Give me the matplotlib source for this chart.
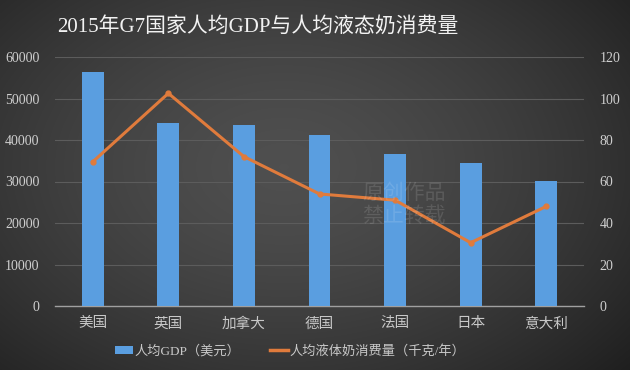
import numpy as np
import matplotlib
matplotlib.use("Agg")
import matplotlib.pyplot as plt
from matplotlib.lines import Line2D
from matplotlib.patches import Patch

categories = ["美国", "英国", "加拿大", "德国", "法国", "日本", "意大利"]
gdp = [56400, 44200, 43500, 41200, 36600, 34500, 30100]
milk = [69.5, 102.5, 72, 54, 51, 30.5, 48]
left_ticks = [0, 10000, 20000, 30000, 40000, 50000, 60000]
right_ticks = [0, 20, 40, 60, 80, 100, 120]
title = "2015年G7国家人均GDP与人均液态奶消费量"
legend_labels = ["人均GDP（美元）", "人均液体奶消费量（千克/年）"]

serif = ["Liberation Serif", "Noto Sans CJK SC"]
plt.rcParams["font.family"] = serif

W, H = 630, 370
fig = plt.figure(figsize=(W / 100, H / 100), dpi=100)

# background vignette
bg = fig.add_axes([0, 0, 1, 1], zorder=-10)
yy, xx = np.mgrid[0:H, 0:W]
cx, cy = W * 0.45, H * 0.45
d = np.sqrt(((xx - cx) / (W * 0.65)) ** 2 + ((yy - cy) / (H * 0.75)) ** 2)
v = 0.31 - 0.16 * np.clip(d, 0, 1.3) ** 1.5
img = np.dstack([v, v, v])
bg.imshow(np.clip(img, 0, 1), aspect="auto", extent=[0, 1, 0, 1])
bg.axis("off")

ax = fig.add_axes([55 / W, 1 - 306 / H, (584 - 55) / W, (306 - 57) / H])
ax.set_facecolor("none")
x = np.arange(len(categories))
ax.bar(x, gdp, width=0.29, color="#5a9ee0", zorder=3)
ax.set_xlim(-0.5, len(categories) - 0.5)
ax.set_ylim(0, 60000)
ax.set_yticks(left_ticks)
ax.set_yticklabels([str(t) for t in left_ticks])
ax.yaxis.grid(True, color="#5c5c5c", linewidth=0.8, zorder=0)
ax.set_axisbelow(True)
for s in ["top", "right", "left"]:
    ax.spines[s].set_visible(False)
ax.spines["bottom"].set_color("#a0a0a0")
ax.spines["bottom"].set_linewidth(1.0)
ax.tick_params(axis="both", length=0, colors="#cfcfcf", labelsize=10)
ax.tick_params(axis="y", pad=11)
ax.tick_params(axis="x", pad=8)
ax.set_xticks(x)
ax.set_xticklabels(categories, fontsize=10.5, color="#c8c8c8")

ax2 = ax.twinx()
ax2.set_ylim(0, 120)
ax2.set_yticks(right_ticks)
ax2.set_yticklabels([str(t) for t in right_ticks])
ax2.plot(x, milk, color="#e07b3c", linewidth=2.2, marker="o", markersize=3.5, zorder=5)
for s in ["top", "right", "left", "bottom"]:
    ax2.spines[s].set_visible(False)
ax2.tick_params(axis="y", length=0, colors="#cfcfcf", labelsize=10, pad=11)

# watermark
fig.text(362 / W, 1 - 204 / H, "原创作品\n禁止转载", fontsize=15, color="white", alpha=0.12,
         family=["Noto Sans CJK SC"], ha="left", va="center", linespacing=1.05)

fig.text(258 / W, 1 - 27 / H, title, fontsize=15, color="#f2f2f2",
         ha="center", va="center")

handles = [Patch(facecolor="#5a9ee0", edgecolor="none"),
           Line2D([0], [0], color="#e07b3c", linewidth=2.5)]
fig.legend(handles, legend_labels, loc="center", bbox_to_anchor=(290 / W, 1 - 351 / H),
           ncol=2, frameon=False, fontsize=9.5, labelcolor="#c8c8c8",
           handlelength=1.4, handleheight=0.6, handletextpad=0.1, columnspacing=2.2)

fig.savefig("out.png", dpi=100)
